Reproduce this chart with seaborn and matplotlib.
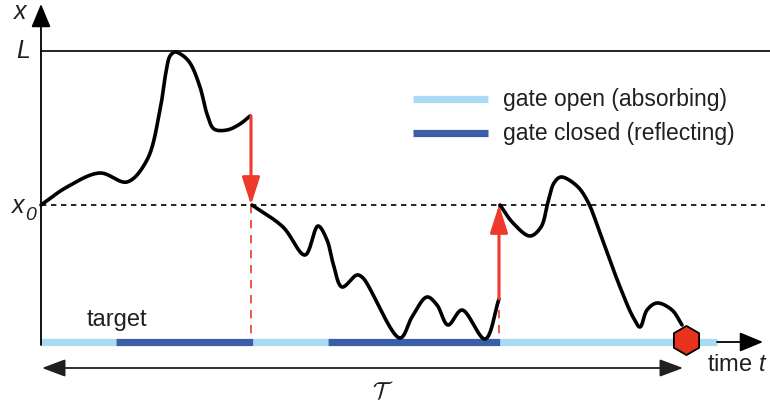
import numpy as np
import pandas as pd
import matplotlib
matplotlib.use("Agg")
import matplotlib.pyplot as plt
import seaborn as sns

sns.set_theme(style="white")
plt.rcParams["font.family"] = ["Liberation Sans", "DejaVu Sans"]
plt.rcParams["mathtext.fontset"] = "custom"
plt.rcParams["mathtext.it"] = "Liberation Sans:italic"
plt.rcParams["mathtext.rm"] = "Liberation Sans"

# ---- schematic values (time t, position x) ----
L_LEVEL = 29.1
X0_LEVEL = 13.7
T_END = 64.5

# trajectory pieces between resets (t, x)
seg1_t = [0.0, 2.6, 5.9, 8.6, 10.6, 11.9, 12.5, 12.9, 13.4, 14.1, 14.9, 15.9, 16.6, 17.3, 18.6, 19.9, 20.9]
seg1_x = [13.7, 15.5, 16.9, 16.0, 18.2, 23.2, 27.0, 28.6, 29.0, 28.7, 27.9, 25.5, 22.8, 21.3, 21.2, 21.8, 22.6]

seg2_t = [21.1, 24.2, 26.4, 27.7, 28.6, 29.2, 30.1, 31.6, 32.2, 35.9, 37.1, 38.6, 39.6, 40.7, 42.1, 44.4, 45.8]
seg2_x = [13.7, 11.5, 8.7, 11.6, 10.2, 7.9, 5.5, 6.7, 6.4, 0.4, 2.5, 4.5, 3.7, 1.7, 3.2, 0.3, 4.3]

seg3_t = [45.9, 47.2, 48.9, 50.0, 50.7, 51.3, 52.0, 53.6, 54.7, 55.9, 57.9, 59.2, 59.9, 60.6, 61.6, 63.1, 64.1]
seg3_x = [13.7, 11.9, 10.6, 11.5, 14.0, 15.9, 16.5, 15.6, 14.0, 10.9, 5.5, 2.5, 1.5, 3.2, 3.9, 3.2, 1.7]

# resets: (time, from x, to x)
reset_t = [21.0, 45.8]
reset_from = [22.6, 4.3]
reset_to = [13.7, 13.7]

# gate schedule along the target
gate_start = [0.0, 7.5, 21.2, 28.7, 45.9]
gate_end = [7.5, 21.2, 28.7, 45.9, 67.6]
gate_state = ["open", "closed", "open", "closed", "open"]

C_OPEN = "#a9dcf4"
C_CLOSED = "#3b5ea9"
C_RED = "#ee3a2a"
C_TEXT = "#231f20"


def smooth(ts, xs, n=24, alpha=0.5):
    """Centripetal Catmull-Rom curve passing through the given points."""
    p = np.column_stack([ts, xs]).astype(float)
    p = np.vstack([2 * p[0] - p[1], p, 2 * p[-1] - p[-2]])
    out = []
    for i in range(1, len(p) - 2):
        p0, p1, p2, p3 = p[i - 1], p[i], p[i + 1], p[i + 2]
        t0 = 0.0
        t1 = t0 + np.linalg.norm(p1 - p0) ** alpha + 1e-9
        t2 = t1 + np.linalg.norm(p2 - p1) ** alpha + 1e-9
        t3 = t2 + np.linalg.norm(p3 - p2) ** alpha + 1e-9
        tt = np.linspace(t1, t2, n)[:, None]
        a1 = (t1 - tt) / (t1 - t0) * p0 + (tt - t0) / (t1 - t0) * p1
        a2 = (t2 - tt) / (t2 - t1) * p1 + (tt - t1) / (t2 - t1) * p2
        a3 = (t3 - tt) / (t3 - t2) * p2 + (tt - t2) / (t3 - t2) * p3
        b1 = (t2 - tt) / (t2 - t0) * a1 + (tt - t0) / (t2 - t0) * a2
        b2 = (t3 - tt) / (t3 - t1) * a2 + (tt - t1) / (t3 - t1) * a3
        c = (t2 - tt) / (t2 - t1) * b1 + (tt - t1) / (t2 - t1) * b2
        out.append(c if i == 1 else c[1:])
    c = np.vstack(out)
    return c[:, 0], c[:, 1]


fig = plt.figure(figsize=(7.7, 4.08), dpi=100)
ax = fig.add_axes([0, 0, 1, 1])
ax.set_xlim(-4.1, 72.9)
ax.set_ylim(-6.6, 34.2)
ax.axis("off")

# reference levels
ax.plot([0, 72.9], [L_LEVEL, L_LEVEL], color="black", lw=1.2)
ax.plot([0, 72.4], [X0_LEVEL, X0_LEVEL], color="black", lw=1.2,
        linestyle=(0, (3.2, 2.8)))

# dashed red guides from each reset down to the target
for t in reset_t:
    ax.plot([t, t], [X0_LEVEL, 0], color=C_RED, lw=1.2,
            linestyle=(0, (5, 4)), zorder=2)

# gate bar along the target
for s, e, g in zip(gate_start, gate_end, gate_state):
    ax.plot([s, e], [0, 0], color=C_OPEN if g == "open" else C_CLOSED,
            lw=5.2, solid_capstyle="butt", zorder=3)

# time axis arrow after the bar
ax.annotate("", xy=(72.2, 0), xytext=(gate_end[-1], 0),
            arrowprops=dict(arrowstyle="-|>,head_length=1.2,head_width=0.5",
                            color="black", lw=1.3, shrinkA=0, shrinkB=0))
# position axis
ax.annotate("", xy=(0, 33.8), xytext=(0, -0.3),
            arrowprops=dict(arrowstyle="-|>,head_length=1.2,head_width=0.5",
                            color="black", lw=1.3, shrinkA=0, shrinkB=0))

# trajectory
for ts, xs in [(seg1_t, seg1_x), (seg2_t, seg2_x), (seg3_t, seg3_x)]:
    ct, cx = smooth(ts, xs)
    sns.lineplot(x=ct, y=cx, sort=False, estimator=None, color="black",
                 lw=2.6, ax=ax, zorder=5)

# resets
for t, a, b in zip(reset_t, reset_from, reset_to):
    ax.annotate("", xy=(t, b), xytext=(t, a),
                arrowprops=dict(arrowstyle="-|>,head_length=1.4,head_width=0.45",
                                color=C_RED, lw=2.2, shrinkA=0, shrinkB=0),
                zorder=6)

# absorption event
ax.scatter([T_END], [0.2], marker="h", s=440, color="#e8321e",
           edgecolor="black", linewidth=1.3, zorder=7)

# total time span
ax.annotate("", xy=(T_END - 0.3, -2.6), xytext=(0.1, -2.6),
            arrowprops=dict(arrowstyle="<|-|>,head_length=1.2,head_width=0.45",
                            color=C_TEXT, lw=1.3, shrinkA=0, shrinkB=0))
ax.text(34.2, -5.0, r"$\mathcal{T}$", math_fontfamily="cm", fontsize=17,
        ha="center", va="center", color=C_TEXT)

# legend
ax.plot([37.2, 44.7], [24.3, 24.3], color=C_OPEN, lw=5.2, solid_capstyle="butt")
ax.plot([37.2, 44.7], [20.9, 20.9], color=C_CLOSED, lw=5.2, solid_capstyle="butt")
ax.text(46.2, 24.3, "gate open (absorbing)", fontsize=16.5, va="center",
        color=C_TEXT)
ax.text(46.2, 20.9, "gate closed (reflecting)", fontsize=16.5, va="center",
        color=C_TEXT)

# labels
ax.text(7.6, 2.2, "target", fontsize=17, ha="center", va="center", color=C_TEXT)
ax.text(66.6, -2.3, "time $t$", fontsize=17, ha="left", va="center", color=C_TEXT)
ax.text(-2.1, 33.0, "x", fontsize=18, style="italic", ha="center", va="center",
        color=C_TEXT)
ax.text(-1.8, 29.1, "L", fontsize=18, style="italic", ha="center", va="center",
        color=C_TEXT)
ax.text(-2.3, 13.6, "x", fontsize=18, style="italic", ha="center", va="center",
        color=C_TEXT)
ax.text(-1.05, 12.7, "0", fontsize=14, style="italic", ha="center", va="center",
        color=C_TEXT)

fig.savefig("out.png", dpi=100)
